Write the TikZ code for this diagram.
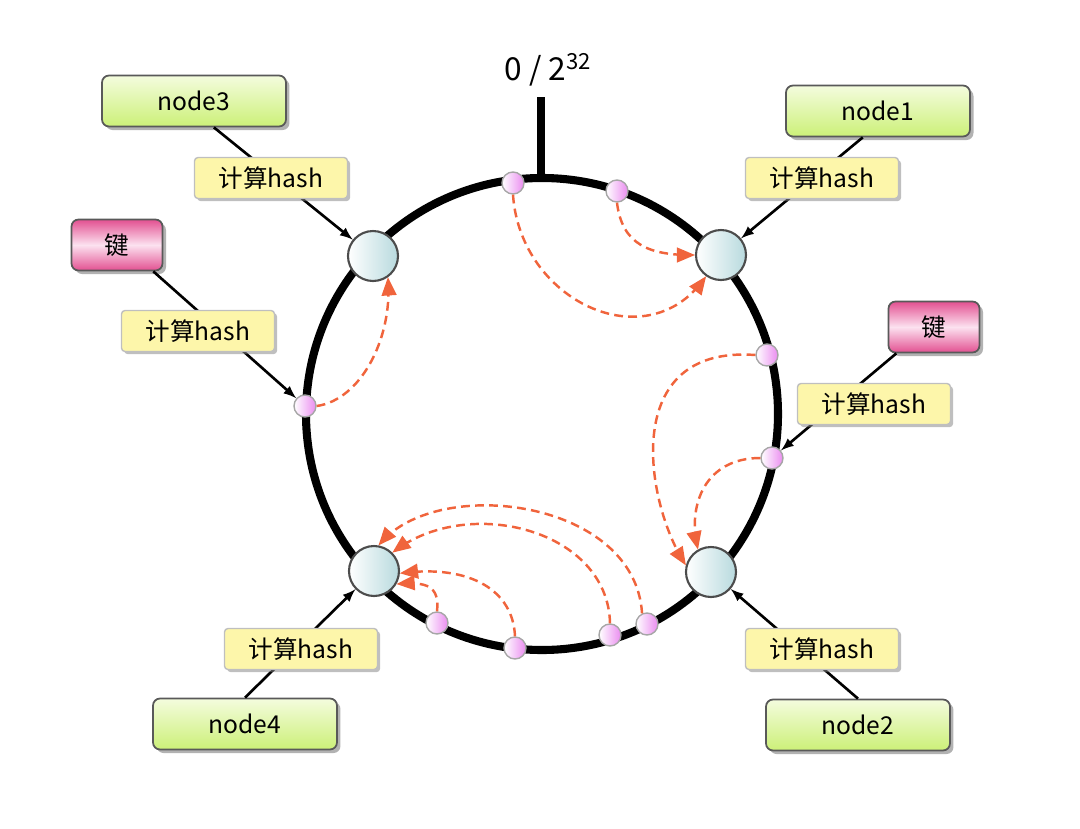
\documentclass[tikz,border=0pt]{standalone}
\usepackage{fontspec}
\setmainfont{Noto Sans CJK SC}
\usetikzlibrary{arrows,shapes,positioning,shadows,calc}

\definecolor{ringnode}{RGB}{184,218,222}
\definecolor{ringpt}{RGB}{234,140,240}
\definecolor{boxgreen}{RGB}{204,240,120}
\definecolor{boxgreenlt}{RGB}{244,252,222}
\definecolor{keypink}{RGB}{226,80,145}
\definecolor{keylight}{RGB}{252,226,240}
\definecolor{hashyellow}{RGB}{253,246,170}
\definecolor{hopred}{RGB}{240,100,60}

\begin{document}
\begin{tikzpicture}[x=0.02cm, y=-0.02cm,
    server/.style={circle, draw=black!70, line width=1.2pt, left color=white, right color=ringnode, minimum size=1cm, inner sep=0pt},
    kpt/.style={circle, draw=black!35, line width=0.8pt, left color=white, right color=ringpt, minimum size=0.44cm, inner sep=0pt},
    machine/.style={rectangle, rounded corners=4pt, draw=black!65, line width=1pt, top color=boxgreenlt, bottom color=boxgreen, minimum width=3.68cm, minimum height=1.02cm, font=\fontsize{14}{16}\selectfont, drop shadow={shadow xshift=2pt, shadow yshift=-2pt, fill=black!60, opacity=.5}},
    keybox/.style={rectangle, rounded corners=4pt, draw=black!65, line width=1pt, top color=keypink, bottom color=keypink, middle color=keylight, minimum width=1.82cm, minimum height=1.02cm, font=\fontsize{14}{16}\selectfont, drop shadow={shadow xshift=2pt, shadow yshift=-2pt, fill=black!60, opacity=.5}},
    hashbox/.style={rectangle, rounded corners=2pt, draw=black!25, line width=0.8pt, fill=hashyellow, minimum width=3.06cm, minimum height=0.82cm, font=\fontsize{14}{16}\selectfont, drop shadow={shadow xshift=1.5pt, shadow yshift=-1.5pt, fill=black!50, opacity=.5}},
    link/.style={->, >=latex, line width=1.5pt},
    move/.style={->, >=triangle 45, hopred, line width=1.4pt, dash pattern=on 5pt off 3pt}
]
\useasboundingbox (0,0) rectangle (1080,829);

% hash ring
\coordinate (ctr) at (542,414);
\draw[line width=4.6pt] (ctr) circle[radius=236];
\coordinate (zero) at (541,178);
\coordinate (tickend) at (541,97);
\draw[line width=4pt] (zero) -- (tickend);
\node[font=\fontsize{18}{20}\selectfont] (label) at (548,70) {0 / 2\textsuperscript{32}};

% servers on the ring
\node[server] (srv1) at (721,255) {};
\node[server] (srv2) at (711,572) {};
\node[server] (srv3) at (373,256) {};
\node[server] (srv4) at (374,571) {};

% keys on the ring
\node[kpt] (t1) at (513,183) {};
\node[kpt] (t2) at (617,191) {};
\node[kpt] (r1) at (767,355) {};
\node[kpt] (r2) at (772,458) {};
\node[kpt] (l1) at (305,406) {};
\node[kpt] (b1) at (437,623) {};
\node[kpt] (b2) at (515,648) {};
\node[kpt] (b3) at (610,635) {};
\node[kpt] (b4) at (647,624) {};

% machines and keys
\node[machine] (n1) at (878,111) {node1};
\node[machine] (n2) at (858,725) {node2};
\node[machine] (n3) at (194,101) {node3};
\node[machine] (n4) at (245,724) {node4};
\node[keybox] (kl) at (117,245) {键};
\node[keybox] (kr) at (934,327) {键};

% hashing
\draw[link] (n1.240) -- (srv1);
\draw[link] (n2.north) -- (srv2);
\draw[link] (n3.307) -- (srv3);
\draw[link] (n4.north) -- (srv4);
\draw[link] (kl.324) -- (l1);
\draw[link] (kr.215) -- (r2);

\node[hashbox] (h1) at (822,178) {计算hash};
\node[hashbox] (h2) at (822,649) {计算hash};
\node[hashbox] (h3) at (271,178) {计算hash};
\node[hashbox] (h4) at (301,649) {计算hash};
\node[hashbox] (hl) at (198,331) {计算hash};
\node[hashbox] (hr) at (874,404) {计算hash};

% clockwise lookup
\draw[move] (t1.south) .. controls (520,300) and (645,360) .. (srv1.235);
\draw[move] (t2.south) .. controls (622,245) and (650,255) .. (srv1.west);
\draw[move] (r1.west) .. controls (620,345) and (645,500) .. (srv2.165);
\draw[move] (r2.west) .. controls (705,458) and (688,505) .. (srv2.120);
\draw[move] (l1.east) .. controls (360,400) and (392,340) .. (srv3.305);
\draw[move] (b1.north) .. controls (440,585) and (425,582) .. (srv4.330);
\draw[move] (b2.north) .. controls (513,590) and (470,565) .. (srv4.355);
\draw[move] (b3.north) .. controls (608,530) and (470,495) .. (srv4.45);
\draw[move] (b4.115) .. controls (635,500) and (440,475) .. (srv4.80);

\end{tikzpicture}
\end{document}
